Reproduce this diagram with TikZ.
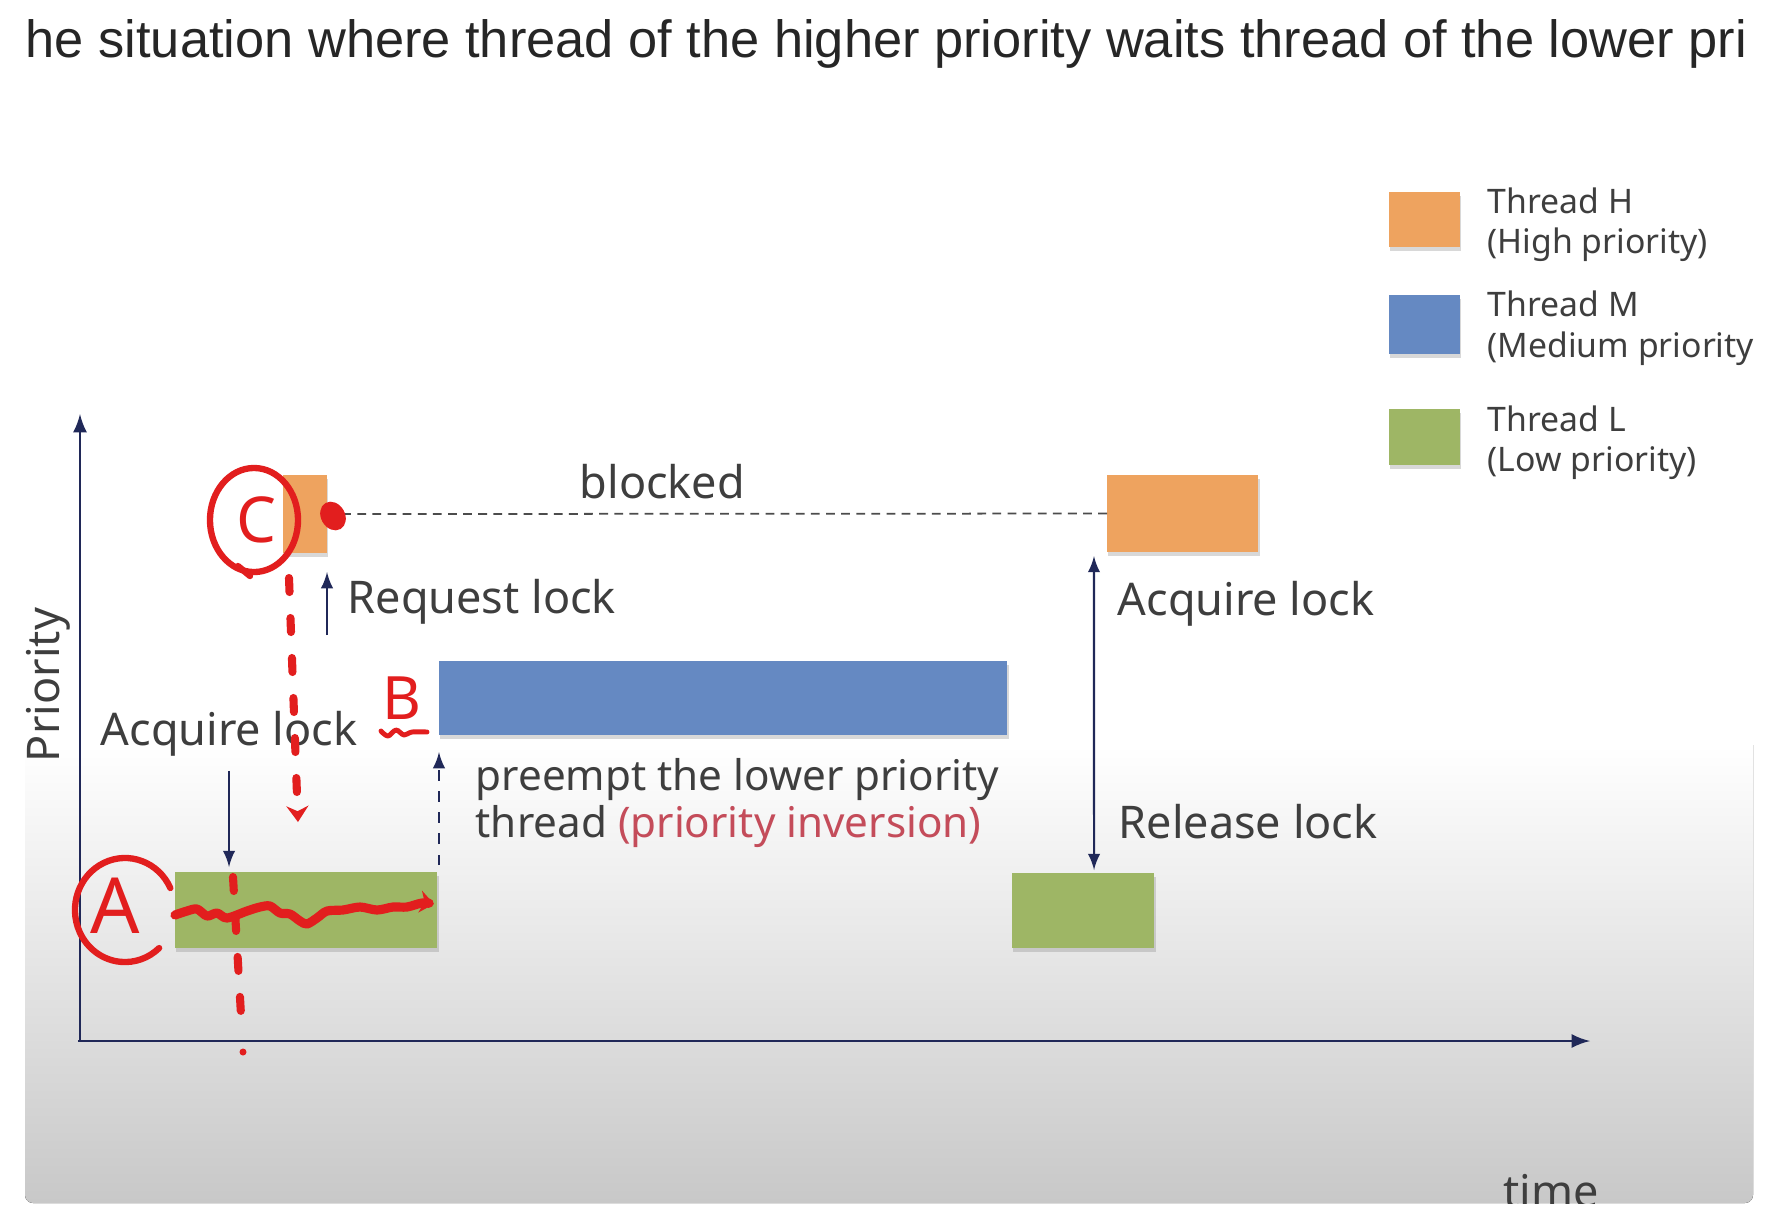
\documentclass[tikz,border=0pt]{standalone}
\usepackage{fontspec}
\setmainfont{Noto Sans}
\newfontfamily\titlefont{Liberation Sans}
\usetikzlibrary{positioning,shadows,arrows.meta}

\definecolor{hcol}{RGB}{238,163,95}
\definecolor{mcol}{RGB}{101,137,194}
\definecolor{lcol}{RGB}{158,182,101}
\definecolor{axiscol}{RGB}{32,40,88}
\definecolor{txtcol}{RGB}{62,62,62}
\definecolor{pen}{RGB}{226,30,30}
\definecolor{invcol}{RGB}{196,76,90}
\definecolor{slidegray}{RGB}{200,200,200}

\tikzset{
  threadbar/.style={inner sep=0pt, outer sep=0pt, anchor=north west,
    drop shadow={shadow xshift=0.4pt, shadow yshift=-1.2pt, opacity=0.3}},
  lbl/.style={inner sep=0pt, anchor=base west, text=txtcol,
    font=\fontsize{12.8}{15}\selectfont},
  legtxt/.style={inner sep=0pt, anchor=base west, text=txtcol,
    font=\fontsize{9.6}{11}\selectfont},
  navyline/.style={draw=axiscol, line width=0.6pt},
  redpen/.style={draw=pen, line width=1.8pt, line cap=round, line join=round},
  reddash/.style={redpen, line width=2.3pt, dash pattern=on 0.14cm off 0.26cm},
}

\begin{document}
\begin{tikzpicture}[x=0.01cm, y=-0.01cm]
\useasboundingbox (0,0) rectangle (1788,1220);

% slide background
\fill[white] (0,0) rectangle (1788,1220);
\fill[top color=white, bottom color=slidegray] (25,745) -- (1753,745)
  [rounded corners=0.08cm] -- (1753,1203) -- (25,1203) [sharp corners] -- cycle;

% title
\node[inner sep=0pt, anchor=base west, text=black!85,
  font=\titlefont\fontsize{14.9}{17}\selectfont] (title) at (25,57)
  {he situation where thread of the higher priority waits thread of the lower pri};

% axes
\coordinate (origin) at (80,1041);
\coordinate (ytip) at (80,414);
\coordinate (xtip) at (1590,1041);
\draw[axiscol, thick, -latex] (origin) -- (ytip);
\draw[axiscol, thick, -latex] ([xshift=-0.02cm]origin) -- (xtip);
\node[lbl, rotate=90, anchor=base] (prio) at (59,685) {Priority};

% thread bars
\node[threadbar, fill=hcol, minimum width=0.44cm, minimum height=0.78cm] (h1) at (283,475) {};
\node[threadbar, fill=hcol, minimum width=1.51cm, minimum height=0.77cm] (h2) at (1107,475) {};
\node[threadbar, fill=mcol, minimum width=5.68cm, minimum height=0.74cm] (m) at (439,661) {};
\node[threadbar, fill=lcol, minimum width=2.62cm, minimum height=0.76cm] (l1) at (175,872) {};
\node[threadbar, fill=lcol, minimum width=1.42cm, minimum height=0.75cm] (l2) at (1012,873) {};

% legend
\node[threadbar, fill=hcol, minimum width=0.71cm, minimum height=0.55cm] (keyh) at (1389,192) {};
\node[threadbar, fill=mcol, minimum width=0.71cm, minimum height=0.59cm] (keym) at (1389,295) {};
\node[threadbar, fill=lcol, minimum width=0.71cm, minimum height=0.56cm] (keyl) at (1389,409) {};
\node[legtxt] (keyh1) at (1487,213) {Thread H};
\node[legtxt] (keyh2) at (1487,253) {(High priority)};
\node[legtxt] (keym1) at (1487,316) {Thread M};
\node[legtxt] (keyl1) at (1487,431) {Thread L};
\node[legtxt] (keyl2) at (1487,471) {(Low priority)};
\begin{scope}
  \clip (25,0) rectangle (1753,1203);
  \node[legtxt] (keym2) at (1487,357) {(Medium priority};
  \node[lbl, anchor=base] (time) at (1551,1207) {time};
\end{scope}

% blocked
\draw[black!70, line width=0.5pt, dash pattern=on 2.5pt off 1.8pt] (h1.east) -- (h2.west);
\node[lbl] (blk) at (579,498) {blocked};

% lock arrows and labels
\draw[navyline, -latex] ([yshift=-0.82cm]h1.south east) -- ([yshift=-0.19cm]h1.south east);
\node[lbl] (req) at (347,613) {Request lock};

\node[lbl] (acq1) at (100,745) {Acquire lock};
\draw[navyline, -latex] ([xshift=0.54cm, yshift=1.01cm]l1.north west) -- ([xshift=0.54cm, yshift=0.05cm]l1.north west);

\draw[navyline, dashed, -latex] ([yshift=-1.30cm]m.south west) -- ([yshift=-0.17cm]m.south west);
\node[lbl, font=\fontsize{12}{14}\selectfont] (pre1) at (475,790) {preempt the lower priority};
\node[lbl, font=\fontsize{12}{14}\selectfont] (pre2) at (475,837) {thread \textcolor{invcol}{(priority inversion)}};

\draw[navyline, latex-latex] ([xshift=-0.13cm, yshift=-0.04cm]h2.south west) -- ([xshift=0.82cm, yshift=0.03cm]l2.north west);
\node[lbl] (acq2) at (1117,615) {Acquire lock};
\node[lbl] (rel) at (1118,838) {Release lock};

% red pen marks
\draw[redpen] (254,520) ellipse [x radius=0.44cm, y radius=0.52cm];
\draw[redpen] (238,566) -- (250,576);
\node[text=pen, font=\fontsize{18}{20}\selectfont] (cmark) at (256,520) {C};
\fill[pen, rotate around={30:(333,516)}] (333,516) ellipse [x radius=0.12cm, y radius=0.15cm];
\draw[reddash, -{Stealth[length=0.16cm, width=0.22cm]}] (289,578) -- (298,822);

\node[text=pen, font=\bfseries\fontsize{17}{19}\selectfont] (bmark) at (402,698) {B};
\draw[redpen, line width=1.4pt] plot[smooth, tension=0.6] coordinates {(381,731) (388,736) (396,730) (404,735) (412,732) (427,732)};

\coordinate (acenter) at (125,910);
\draw[redpen] ([shift={(25:0.5cm and 0.52cm)}]acenter) arc[start angle=25, end angle=313, x radius=0.5cm, y radius=0.52cm];
\node[text=pen, font=\fontsize{22}{24}\selectfont] (amark) at (115,906) {A};
\draw[reddash] (233,877) -- (242,1032);
\fill[pen] (243,1052) circle [radius=0.035cm];
\draw[redpen, line width=2.6pt, -{Stealth[length=0.14cm, width=0.22cm]}] plot[smooth, tension=0.5] coordinates {(175,915) (187,911) (197,909) (207,916) (217,913) (227,918) (247,911) (260,907) (270,906) (280,913) (290,914) (300,921) (307,924) (317,918) (327,911) (343,910) (360,907) (377,910) (393,907) (407,907) (422,903) (434,904)};

\end{tikzpicture}
\end{document}
